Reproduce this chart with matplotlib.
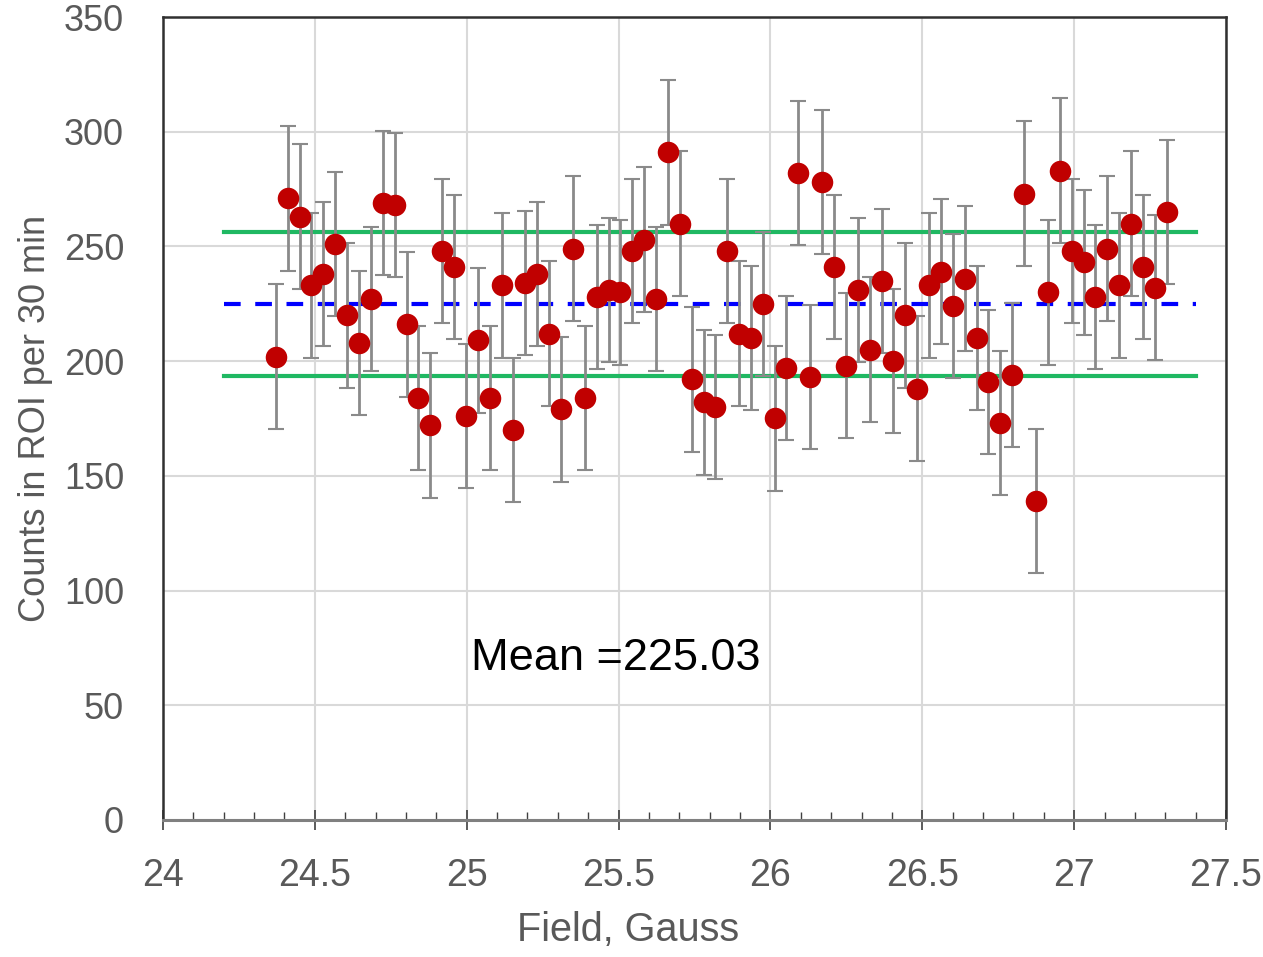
import matplotlib
matplotlib.use("Agg")
import matplotlib.pyplot as plt
from matplotlib.ticker import MultipleLocator

plt.rcParams['font.family'] = ['Liberation Sans', 'DejaVu Sans']

field = [24.372, 24.411, 24.450, 24.489, 24.528, 24.568, 24.607, 24.646, 24.685, 24.724,
         24.763, 24.802, 24.841, 24.880, 24.919, 24.959, 24.998, 25.037, 25.076, 25.115,
         25.154, 25.193, 25.232, 25.271, 25.310, 25.350, 25.389, 25.428, 25.467, 25.506,
         25.545, 25.584, 25.623, 25.662, 25.701, 25.741, 25.780, 25.819, 25.858, 25.897,
         25.936, 25.975, 26.014, 26.053, 26.092, 26.132, 26.171, 26.210, 26.249, 26.288,
         26.327, 26.366, 26.405, 26.444, 26.483, 26.523, 26.562, 26.601, 26.640, 26.679,
         26.718, 26.757, 26.796, 26.835, 26.874, 26.914, 26.953, 26.992, 27.031, 27.070,
         27.109, 27.148, 27.187, 27.226, 27.265, 27.305]
counts = [202, 271, 263, 233, 238, 251, 220, 208, 227, 269,
          268, 216, 184, 172, 248, 241, 176, 209, 184, 233,
          170, 234, 238, 212, 179, 249, 184, 228, 231, 230,
          248, 253, 227, 291, 260, 192, 182, 180, 248, 212,
          210, 225, 175, 197, 282, 193, 278, 241, 198, 231,
          205, 235, 200, 220, 188, 233, 239, 224, 236, 210,
          191, 173, 194, 273, 139, 230, 283, 248, 243, 228,
          249, 233, 260, 241, 232, 265]
err = 31.5
mean_val = 225.03
band_lo = 193.5
band_hi = 256.5
line_x = [24.2, 27.4]

fig = plt.figure(figsize=(12.63, 9.57), dpi=100)
ax = fig.add_axes([0.129, 0.1432, 0.8417, 0.839])

ax.grid(True, color='#d9d9d9', linewidth=1.5, zorder=0)
ax.set_axisbelow(True)

ax.plot(line_x, [band_hi, band_hi], color='#1fb862', linewidth=3, zorder=2)
ax.plot(line_x, [band_lo, band_lo], color='#1fb862', linewidth=3, zorder=2)
ax.plot(line_x, [mean_val, mean_val], color='#0000ff', linewidth=3,
        linestyle=(0, (4, 3.5)), zorder=2)

ax.errorbar(field, counts, yerr=err, fmt='none', ecolor='#8a8a8a', elinewidth=2,
            capsize=6, capthick=1.5, zorder=3)
ax.plot(field, counts, 'o', color='#c00000', markersize=15.5, markeredgewidth=0, zorder=4)

ax.text(25.013, 70.5, 'Mean =225.03', fontsize=32.5, color='black', ha='left', va='center')

ax.set_xlim(24, 27.5)
ax.set_ylim(0, 350)
ax.xaxis.set_major_locator(MultipleLocator(0.5))
ax.xaxis.set_minor_locator(MultipleLocator(0.1))
ax.yaxis.set_major_locator(MultipleLocator(50))
ax.set_xticks([24, 24.5, 25, 25.5, 26, 26.5, 27, 27.5])
ax.set_xticklabels(['24', '24.5', '25', '25.5', '26', '26.5', '27', '27.5'])

ax.tick_params(axis='x', which='major', direction='inout', length=15, width=1.2,
               color='#404040', labelsize=27, labelcolor='#595959', pad=20)
ax.tick_params(axis='x', which='minor', direction='in', length=6, width=1.0, color='#404040')
ax.tick_params(axis='y', which='both', length=0, labelsize=26, labelcolor='#595959', pad=28)

for s in ['left', 'top', 'right']:
    ax.spines[s].set_color('#303030')
    ax.spines[s].set_linewidth(1.8)
ax.spines['bottom'].set_color('#808080')
ax.spines['bottom'].set_linewidth(2.2)

ax.set_xlabel('Field, Gauss', fontsize=28.5, color='#595959', va='center')
ax.xaxis.set_label_coords(0.4375, -0.1372)
ax.set_ylabel('Counts in ROI per 30 min', fontsize=26, color='#595959', labelpad=8)

fig.savefig('out.png', dpi=100)
